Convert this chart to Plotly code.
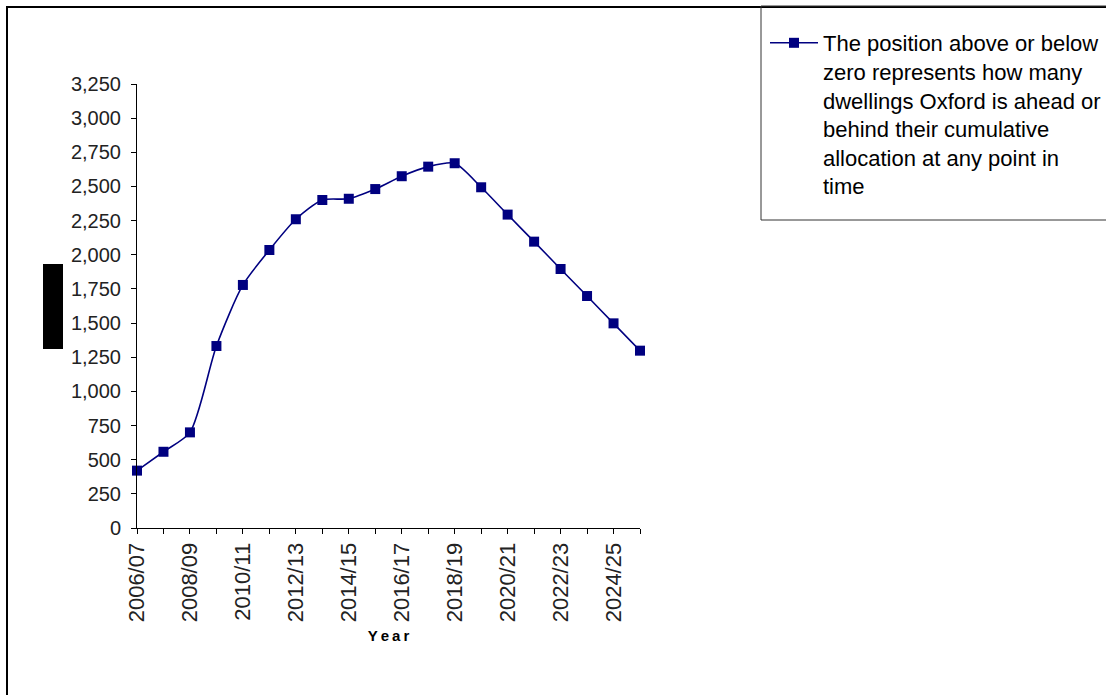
import plotly.graph_objects as go

# Financial years on the category axis
years = [
    "2006/07", "2007/08", "2008/09", "2009/10", "2010/11",
    "2011/12", "2012/13", "2013/14", "2014/15", "2015/16",
    "2016/17", "2017/18", "2018/19", "2019/20", "2020/21",
    "2021/22", "2022/23", "2023/24", "2024/25", "2025/26",
]

# Dwellings ahead (+) / behind (-) the cumulative allocation
position = [
    420, 558, 700, 1332, 1779,
    2035, 2260, 2401, 2410, 2481,
    2575, 2645, 2670, 2494, 2294,
    2096, 1896, 1698, 1498, 1298,
]

y_ticks = [0, 250, 500, 750, 1000, 1250, 1500, 1750, 2000, 2250, 2500, 2750, 3000, 3250]

series_name = (
    "The position above or below<br>"
    "zero represents how many<br>"
    "dwellings Oxford is ahead or<br>"
    "behind their cumulative<br>"
    "allocation at any point in<br>"
    "time"
)

W, H = 1106, 695
ML, MR, MT, MB = 137, 466, 84, 167
PW = W - ML - MR
PH = H - MT - MB


def fx(px):
    """Pixel column -> paper x."""
    return (px - ML) / PW


def fy(py):
    """Pixel row -> paper y."""
    return (H - MB - py) / PH


NAVY = "#000080"
FONT = "Liberation Sans, Arial, Helvetica, sans-serif"

fig = go.Figure()
fig.add_trace(
    go.Scatter(
        x=years,
        y=position,
        name=series_name,
        mode="lines+markers",
        line=dict(color=NAVY, width=1.6, shape="spline", smoothing=0.7),
        marker=dict(symbol="square", size=10, color=NAVY, line=dict(width=0)),
        cliponaxis=False,
        showlegend=True,
    )
)

# x ticks on every year, labels on every other one
x_labels = [y if i % 2 == 0 else "" for i, y in enumerate(years)]

axis_common = dict(
    showline=True,
    linecolor="black",
    linewidth=1,
    ticks="outside",
    ticklen=5,
    tickwidth=1,
    tickcolor="black",
    showgrid=False,
    zeroline=False,
)

fig.update_xaxes(
    type="category",
    categoryorder="array",
    categoryarray=years,
    range=[0, len(years) - 1],
    tickmode="array",
    tickvals=years,
    ticktext=x_labels,
    tickangle=-90,
    tickfont=dict(family=FONT, size=22, color="#222222"),
    title=dict(
        text="Y\u2009e\u2009a\u2009r",
        font=dict(family=FONT, size=15, color="black", weight="bold"),
        standoff=9,
    ),
    automargin=False,
    **axis_common,
)

fig.update_yaxes(
    range=[0, y_ticks[-1]],
    tickmode="array",
    tickvals=y_ticks,
    tickformat=",d",
    ticklabelstandoff=6,
    tickfont=dict(family=FONT, size=20, color="#222222"),
    automargin=False,
    **axis_common,
)

shapes = [
    # outer chart frame
    dict(type="rect", xref="paper", yref="paper",
         x0=fx(7), x1=fx(1300), y0=fy(900), y1=fy(7),
         line=dict(color="black", width=2), fillcolor="rgba(0,0,0,0)", layer="above"),
    # legend frame
    dict(type="rect", xref="paper", yref="paper",
         x0=fx(761), x1=fx(1300), y0=fy(220), y1=fy(6),
         line=dict(color="#333333", width=1), fillcolor="rgba(0,0,0,0)", layer="above"),
    # y-axis title block
    dict(type="rect", xref="paper", yref="paper",
         x0=fx(43), x1=fx(63), y0=fy(349), y1=fy(264),
         line=dict(width=0), fillcolor="black", layer="above"),
]

fig.update_layout(
    width=W,
    height=H,
    margin=dict(l=ML, r=MR, t=MT, b=MB, autoexpand=False),
    paper_bgcolor="white",
    plot_bgcolor="white",
    font=dict(family=FONT, size=20, color="#222222"),
    shapes=shapes,
    showlegend=True,
    legend=dict(
        x=fx(765),
        y=fy(22),
        xanchor="left",
        yanchor="top",
        bgcolor="rgba(0,0,0,0)",
        borderwidth=0,
        itemwidth=48,
        valign="top",
        font=dict(family=FONT, size=22, color="black"),
        itemclick=False,
        itemdoubleclick=False,
    ),
)

fig.write_html("out.html")
